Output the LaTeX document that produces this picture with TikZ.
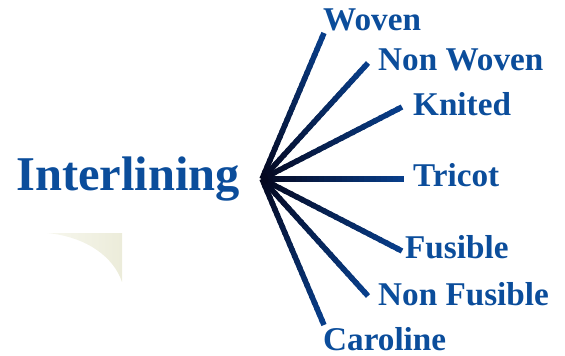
\documentclass[tikz,border=0pt]{standalone}
\usepackage{fontspec}
\setmainfont{Liberation Serif}
\usetikzlibrary{calc}
\definecolor{txtblue}{RGB}{11,77,155}
\definecolor{linedark}{RGB}{5,6,28}
\definecolor{lineblue}{RGB}{8,62,138}
\definecolor{paperA}{RGB}{247,247,238}
\definecolor{paperB}{RGB}{236,236,218}
\newcommand\spokeline[2]{%
  \foreach \i in {0,...,24}{%
    \pgfmathsetmacro\sa{\i/25}%
    \pgfmathsetmacro\sb{min((\i+1.4)/25,1)}%
    \pgfmathtruncatemacro\sp{\i*4+4}%
    \draw[spoke, draw=lineblue!\sp!linedark] ($(#1)!\sa!(#2)$) -- ($(#1)!\sb!(#2)$);
  }%
}
\begin{document}
\begin{tikzpicture}[x=1pt,y=-1pt,
  spoke/.style={line width=5.5pt, line cap=butt},
  branch/.style={anchor=base west, inner sep=0pt, text=txtblue,
    font=\fontsize{33.2}{38}\selectfont\bfseries},
  title/.style={anchor=base west, inner sep=0pt, text=txtblue,
    font=\fontsize{48.5}{56}\selectfont\bfseries}]
\useasboundingbox (0,0) rectangle (565,356);
% decorative paper corner
\shade[left color=paperA, right color=paperB]
  (47,233) -- (122,233) -- (122,282) .. controls (114,258) and (88,237) .. (47,233) -- cycle;
% title
\node[title] (title) at (16,190) {Interlining};
% hub and ends
\coordinate (hub) at (262,179);
\coordinate (eWoven) at (324,33);
\coordinate (eNonWoven) at (368,63);
\coordinate (eKnited) at (402,107);
\coordinate (eTricot) at (404,179);
\coordinate (eFusible) at (402,251);
\coordinate (eNonFusible) at (368,296);
\coordinate (eCaroline) at (324,325);
\spokeline{hub}{eWoven}
\spokeline{hub}{eNonWoven}
\spokeline{hub}{eKnited}
\spokeline{hub}{eTricot}
\spokeline{hub}{eFusible}
\spokeline{hub}{eNonFusible}
\spokeline{hub}{eCaroline}
% labels
\node[branch] (woven) at (323,30) {Woven};
\node[branch] (nonwoven) at (378,70) {Non Woven};
\node[branch] (knited) at (413,115) {Knited};
\node[branch] (tricot) at (413,186) {Tricot};
\node[branch] (fusible) at (405,258) {Fusible};
\node[branch] (nonfusible) at (378,305) {Non Fusible};
\node[branch] (caroline) at (323,350) {Caroline};
\end{tikzpicture}
\end{document}
